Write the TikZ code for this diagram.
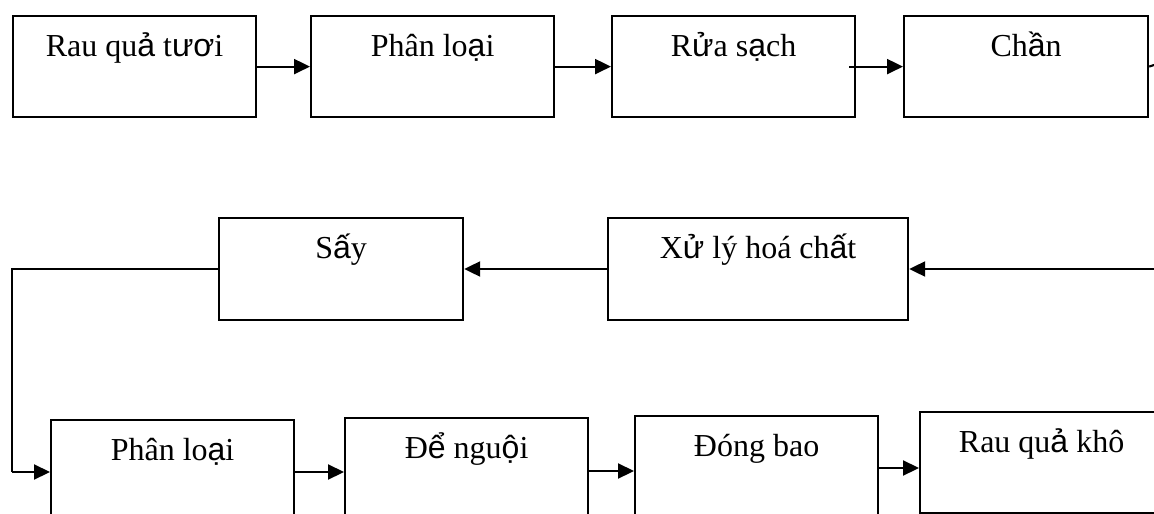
\documentclass[tikz,border=0pt]{standalone}
\usepackage{fontspec}
\setmainfont{Liberation Serif}
\newfontfamily\vs{Liberation Sans}
\usetikzlibrary{arrows.meta,calc}

\tikzset{
  stage/.style={draw, line width=2.2pt, inner sep=0pt, anchor=north west,
    text height=40pt, font=\fontsize{32}{38}\selectfont},
  flow/.style={line width=2.2pt, -{Triangle[length=16pt,width=15pt]}},
  link/.style={line width=2.2pt}
}

\begin{document}
\begin{tikzpicture}[x=1pt,y=-1pt]
\useasboundingbox (0,0) rectangle (1154,514);
\clip (0,0) rectangle (1154,514);

% first row
\node[stage, minimum width=243pt, text depth=61pt] (fresh) at (12,15) {Rau qu{\vs ả} t{\vs ươ}i};
\node[stage, minimum width=243pt, text depth=61pt] (sort1) at (310,15) {Phân lo{\vs ạ}i};
\node[stage, minimum width=243pt, text depth=61pt] (wash) at (611,15) {R{\vs ử}a s{\vs ạ}ch};
\node[stage, minimum width=244pt, text depth=61pt] (blanch) at (903,15) {Ch{\vs ầ}n};

% second row
\node[stage, minimum width=244pt, text depth=62pt] (dry) at (218,217) {S{\vs ấ}y};
\node[stage, minimum width=300pt, text depth=62pt] (chem) at (607,217) {X{\vs ử} lý hoá ch{\vs ấ}t};

% third row
\node[stage, minimum width=243pt, text depth=66pt] (sort2) at (50,419) {Phân lo{\vs ạ}i};
\node[stage, minimum width=243pt, text depth=68pt] (cool) at (344,417) {Đ{\vs ể} ngu{\vs ộ}i};
\node[stage, minimum width=243pt, text depth=66pt] (pack) at (634,415) {Đóng bao};
\node[stage, minimum width=243pt, text depth=61pt] (product) at (919,411) {Rau qu{\vs ả} khô};

% connectors of the first row
\draw[flow] (fresh.east) -- (sort1.west);
\draw[flow] (sort1.east) -- (wash.west);
\draw[flow] ([xshift=-7pt]wash.east) -- (blanch.west);
\coordinate (outR) at (1154,65);
\draw[link] (blanch.east) -- (outR);

% connectors of the second row
\coordinate (inR) at (1154,269);
\draw[flow] (inR) -- (chem.east |- inR);
\draw[flow] (chem.west |- inR) -- (dry.east |- inR);
\coordinate (turnA) at (12,269);
\coordinate (turnB) at (12,472);
\draw[link] (dry.west |- turnA) -- (turnA) -- (turnB);
\draw[flow] (turnB) -- (sort2.west |- turnB);

% connectors of the third row
\draw[flow] (sort2.east |- turnB) -- (cool.west |- turnB);
\draw[flow] (cool.east |- 0,471) -- (pack.west |- 0,471);
\draw[flow] (pack.east |- 0,468) -- (product.west |- 0,468);
\end{tikzpicture}
\end{document}
